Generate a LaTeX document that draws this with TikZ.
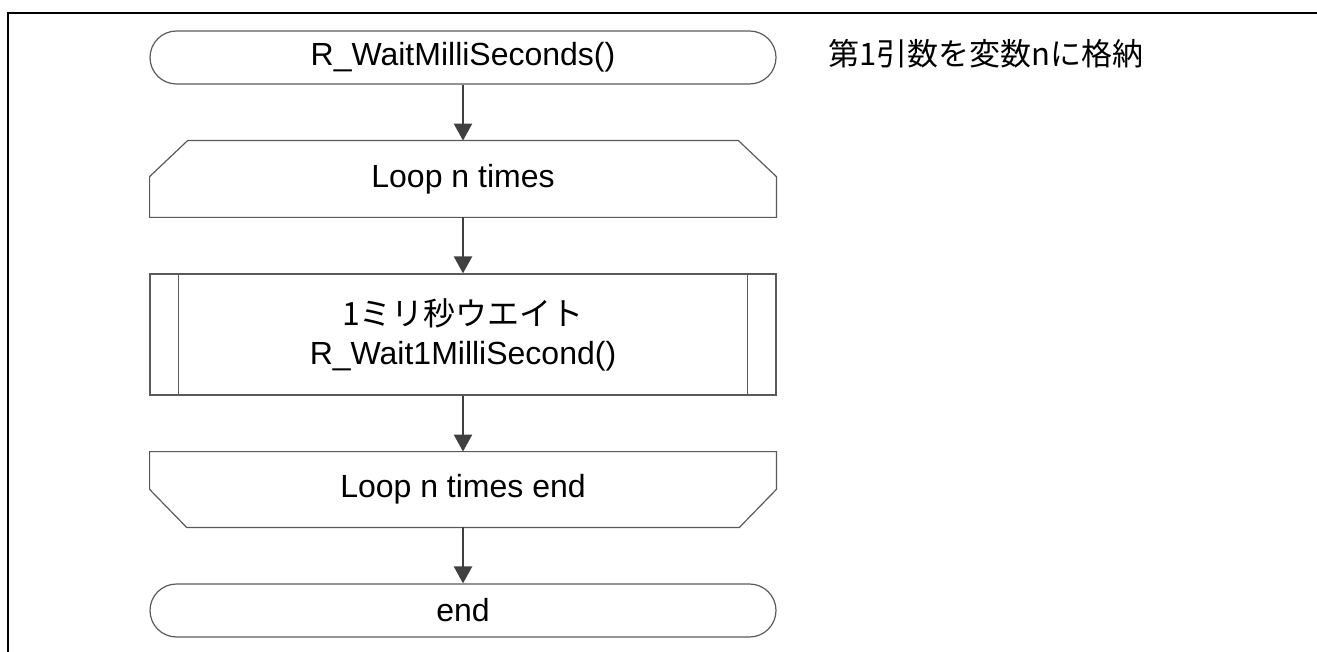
\documentclass[tikz,border=0pt]{standalone}
\usepackage{fontspec}
\setmainfont{Liberation Sans}
\newfontfamily\jpfont{Noto Sans CJK JP}
\usetikzlibrary{positioning,arrows.meta}
\definecolor{shapegray}{RGB}{90,90,90}
\definecolor{arrowgray}{RGB}{64,64,64}
\begin{document}
\begin{tikzpicture}[x=1pt,y=1pt]
    \tikzset {
        box base/.style = {minimum width=313pt, inner sep=0pt, align=center, font=\fontsize{16}{19.5}\selectfont},
        terminal/.style = {box base, draw=shapegray, line width=0.6pt, minimum height=26.5pt, rounded corners=13.25pt},
        loop box/.style = {box base, minimum height=38pt},
        sub box/.style = {box base, draw=shapegray, line width=0.6pt, minimum height=60.5pt},
        outline/.style = {draw=shapegray, line width=0.6pt},
        flow/.style = {draw=arrowgray, line width=1.2pt, -{Triangle[width=9pt,length=8.5pt]}},
        node distance = 28pt
    }
    \useasboundingbox (0,0) rectangle (658.5,-326);
    \draw[line width=1.4pt] (4,-330) -- (4,-6.5) -- (662,-6.5);
    \node[terminal] (start) at (231.5,-28.75) {R\_WaitMilliSeconds()};
    \node[right=25.5pt of start, yshift=2pt, inner sep=0pt, font=\jpfont\fontsize{15.5}{18}\selectfont] (note) {第1引数を変数nに格納};
    \node[loop box, below=of start] (loop) {Loop n times};
    \node[sub box, below=of loop] (wait) {{\jpfont 1ミリ秒ウエイト}\\R\_Wait1MilliSecond()};
    \node[loop box, minimum height=37.5pt, below=of wait] (loopend) {Loop n times end};
    \node[terminal, below=of loopend] (stop) {end};
    \draw[outline] ([yshift=-18pt]loop.north west) -- ([xshift=19pt]loop.north west) -- ([xshift=-19pt]loop.north east) -- ([yshift=-18pt]loop.north east) -- (loop.south east) -- (loop.south west) -- cycle;
    \draw[outline] ([xshift=14.5pt]wait.north west) -- ([xshift=14.5pt]wait.south west) ([xshift=-14.5pt]wait.north east) -- ([xshift=-14.5pt]wait.south east);
    \draw[outline] ([yshift=19pt]loopend.south west) -- ([xshift=18.5pt]loopend.south west) -- ([xshift=-18.5pt]loopend.south east) -- ([yshift=19pt]loopend.south east) -- (loopend.north east) -- (loopend.north west) -- cycle;
    \draw[flow] (start.south) -- (loop.north);
    \draw[flow] (loop.south) -- (wait.north);
    \draw[flow] (wait.south) -- (loopend.north);
    \draw[flow] (loopend.south) -- (stop.north);
\end{tikzpicture}
\end{document}
